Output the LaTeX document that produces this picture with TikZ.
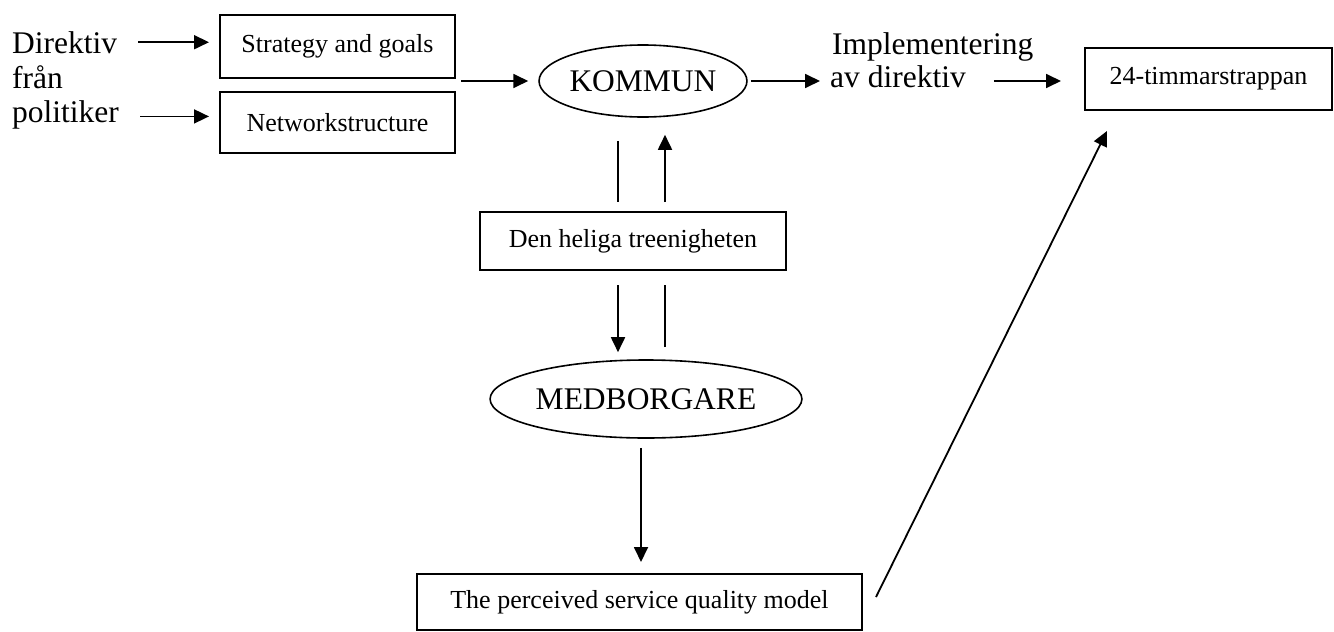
\documentclass[tikz,border=0pt]{standalone}
\usepackage{fontspec}
\setmainfont{Liberation Serif}
\usepackage{tikz}
\usetikzlibrary{shapes,arrows.meta}

\begin{document}
\begin{tikzpicture}[x=1pt,y=-1pt,
        big/.style={font=\fontsize{31.5}{34}\selectfont, inner sep=0pt},
        box/.style={draw, line width=2pt, font=\fontsize{26}{30}\selectfont, inner sep=0pt},
        oval/.style={draw, ellipse, line width=1.6pt, font=\fontsize{31.5}{34}\selectfont, inner sep=0pt},
        arr/.style={line width=1.8pt, -{Triangle[length=15pt,width=14pt]}},
        plain/.style={line width=1.8pt}]
        \useasboundingbox (0,0) rectangle (1334,632);

        % Direktiv
        \node[big, anchor=base west] (dir1) at (12,53) {Direktiv};
        \node[big, anchor=base west] (dir2) at (12,88) {från};
        \node[big, anchor=base west] (dir3) at (12,122) {politiker};

        \node[box, minimum width=235pt, minimum height=63pt] (sg) at (337.5,46.5) {Strategy and goals};
        \node[box, minimum width=235pt, minimum height=61pt] (ns) at (337.5,122.5) {Networkstructure};

        \draw[arr, shorten <=21pt, shorten >=10pt] (dir1.east) -- (dir1.east -| sg.west);
        \draw[arr, shorten <=21pt, shorten >=10pt] ([yshift=-2pt]dir3.east) -- ([yshift=-2pt]dir3.east -| ns.west);

        % KOMMUN
        \node[oval, minimum width=193pt, minimum height=72pt] (kom) at (643,81) {KOMMUN};
        \draw[arr, shorten >=10pt] ([xshift=5pt]sg.east |- kom) -- (kom.west);

        % Implementering
        \node[big, anchor=base west] (imp1) at (832,54) {Implementering};
        \node[big, anchor=base west] (imp2) at (830,87) {av direktiv};
        \node[box, minimum width=247pt, minimum height=62pt] (ts) at (1208.5,79) {24-timmarstrappan};

        \draw[arr, shorten <=3pt, shorten >=10pt] (kom.east) -- (kom.east -| imp2.west);
        \draw[arr, shorten <=28pt, shorten >=23pt] (imp2.east |- kom) -- (ts.west |- kom);

        % Den heliga treenigheten
        \node[box, minimum width=306pt, minimum height=58pt] (dh) at (633,241) {Den heliga treenigheten};
        \draw[plain, shorten <=23pt, shorten >=9pt] ([xshift=-25pt]kom.south) -- ([xshift=-25pt]kom.south |- dh.north);
        \draw[arr, shorten <=9pt, shorten >=17pt] ([xshift=22pt]kom.south |- dh.north) -- ([xshift=22pt]kom.south);

        % MEDBORGARE
        \node[oval, minimum width=258pt, minimum height=78pt] (med) at (646,399) {MEDBORGARE};
        \draw[arr, shorten <=14pt, shorten >=7pt] ([xshift=-28pt]med.north |- dh.south) -- ([xshift=-28pt]med.north);
        \draw[plain, shorten <=12pt, shorten >=14pt] ([xshift=19pt]med.north) -- ([xshift=19pt]med.north |- dh.south);

        % service quality
        \node[box, minimum width=445pt, minimum height=56pt] (pq) at (639.5,602) {The perceived service quality model};
        \draw[arr, shorten <=9pt, shorten >=11pt] ([xshift=-5pt]med.south) -- ([xshift=-5pt]med.south |- pq.north);
        \draw[arr] ([xshift=13pt,yshift=5pt]pq.east) -- ([xshift=23pt,yshift=-20pt]ts.south west);
    \end{tikzpicture}
\end{document}
